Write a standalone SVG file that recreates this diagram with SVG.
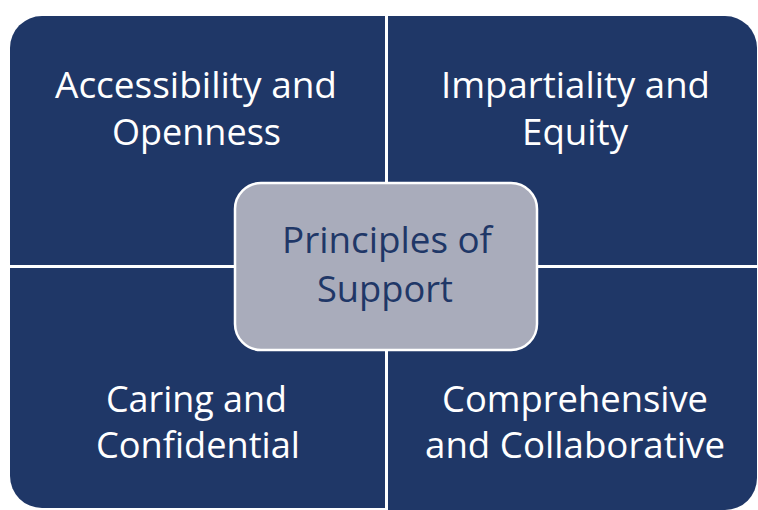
<svg xmlns="http://www.w3.org/2000/svg" width="758" height="510" viewBox="0 0 758 510">
  <style>
    .quad { fill: #1F3767; }
    .hub { fill: #A9ACBB; stroke: #FFFFFF; stroke-width: 2.5; }
    .label { font-family: "Open Sans", "Liberation Sans", sans-serif; font-size: 37px; fill: #FFFFFF; text-anchor: middle; }
    .hub-label { font-family: "Open Sans", "Liberation Sans", sans-serif; font-size: 36px; fill: #1F3767; text-anchor: middle; }
  </style>
  <rect width="758" height="510" fill="#FFFFFF"/>

  <!-- top-left quadrant -->
  <g id="accessibility">
    <path class="quad" d="M10,48 A32,32 0 0 1 42,16 H385 V265 H10 Z"/>
    <text class="label" x="196" y="98" textLength="282" lengthAdjust="spacingAndGlyphs">Accessibility and</text>
    <text class="label" x="196.5" y="145" textLength="169" lengthAdjust="spacingAndGlyphs">Openness</text>
  </g>

  <!-- top-right quadrant -->
  <g id="impartiality">
    <path class="quad" d="M388,16 H725 A32,32 0 0 1 757,48 V265 H388 Z"/>
    <text class="label" x="575.5" y="98" textLength="269" lengthAdjust="spacingAndGlyphs">Impartiality and</text>
    <text class="label" x="575" y="145" textLength="106" lengthAdjust="spacingAndGlyphs">Equity</text>
  </g>

  <!-- bottom-left quadrant -->
  <g id="caring">
    <path class="quad" d="M10,268 H385 V508 H42 A32,32 0 0 1 10,476 Z"/>
    <text class="label" x="196.5" y="412" textLength="181" lengthAdjust="spacingAndGlyphs">Caring and</text>
    <text class="label" x="198" y="458" textLength="204" lengthAdjust="spacingAndGlyphs">Confidential</text>
  </g>

  <!-- bottom-right quadrant -->
  <g id="comprehensive">
    <path class="quad" d="M388,268 H757 V478 A32,32 0 0 1 725,510 H388 Z"/>
    <text class="label" x="575" y="412" textLength="266" lengthAdjust="spacingAndGlyphs">Comprehensive</text>
    <text class="label" x="575" y="458" textLength="300" lengthAdjust="spacingAndGlyphs">and Collaborative</text>
  </g>

  <!-- central hub -->
  <g id="principles">
    <rect class="hub" x="235" y="183" width="302" height="167" rx="26" ry="26"/>
    <text class="hub-label" x="387" y="253" textLength="210" lengthAdjust="spacingAndGlyphs">Principles of</text>
    <text class="hub-label" x="385" y="302" textLength="136" lengthAdjust="spacingAndGlyphs">Support</text>
  </g>

  <g id="connectors"></g>
</svg>
